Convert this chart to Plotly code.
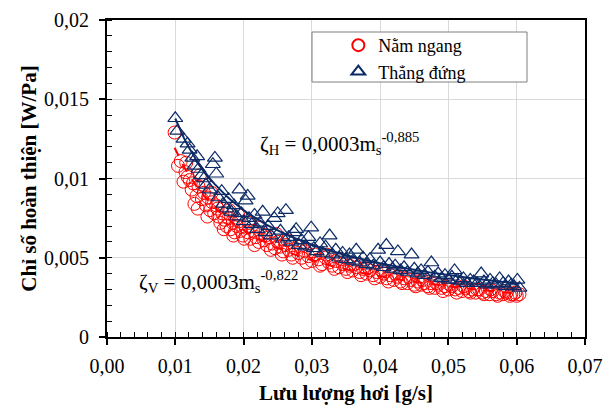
import numpy as np
import plotly.graph_objects as go

# Nằm ngang (horizontal) measurements: steam flow [g/s] vs performance index [W/Pa]
h_flow = [0.0099, 0.0104, 0.0108, 0.0112, 0.0116, 0.0118, 0.0121, 0.0124, 0.0128, 0.0131,
          0.0134, 0.0136, 0.0139, 0.0142, 0.0145, 0.0148, 0.0151, 0.0154, 0.0157, 0.0160,
          0.0163, 0.0166, 0.0169, 0.0172, 0.0175, 0.0178, 0.0181, 0.0184, 0.0187, 0.0190,
          0.0193, 0.0196, 0.0199, 0.0203, 0.0206, 0.0210, 0.0214, 0.0218, 0.0222, 0.0226,
          0.0230, 0.0234, 0.0238, 0.0242, 0.0246, 0.0250, 0.0254, 0.0258, 0.0262, 0.0266,
          0.0270, 0.0275, 0.0280, 0.0285, 0.0290, 0.0295, 0.0300, 0.0305, 0.0310, 0.0315,
          0.0320, 0.0325, 0.0330, 0.0335, 0.0340, 0.0345, 0.0350, 0.0355, 0.0360, 0.0365,
          0.0370, 0.0375, 0.0380, 0.0385, 0.0390, 0.0395, 0.0400, 0.0405, 0.0410, 0.0415,
          0.0420, 0.0425, 0.0430, 0.0435, 0.0440, 0.0445, 0.0450, 0.0455, 0.0460, 0.0465,
          0.0470, 0.0475, 0.0480, 0.0485, 0.0490, 0.0495, 0.0500, 0.0505, 0.0510, 0.0515,
          0.0520, 0.0525, 0.0530, 0.0535, 0.0540, 0.0545, 0.0550, 0.0555, 0.0560, 0.0565,
          0.0570, 0.0575, 0.0580, 0.0585, 0.0590, 0.0595, 0.0600, 0.0604,
          0.0115, 0.0126, 0.0133, 0.0141, 0.0147, 0.0153, 0.0162, 0.0171, 0.0179, 0.0185,
          0.0192, 0.0201, 0.0208, 0.0216, 0.0224, 0.0232, 0.0240, 0.0248, 0.0256, 0.0264,
          0.0272, 0.0283, 0.0292, 0.0302, 0.0312, 0.0322, 0.0333, 0.0343, 0.0352, 0.0362,
          0.0372, 0.0383, 0.0392, 0.0402, 0.0412, 0.0422, 0.0432, 0.0442, 0.0452, 0.0462,
          0.0472, 0.0482, 0.0492, 0.0502, 0.0512, 0.0522, 0.0532, 0.0542, 0.0552, 0.0562,
          0.0572, 0.0582, 0.0592, 0.0598]
h_index = [0.0129, 0.0108, 0.0111, 0.0098, 0.0110, 0.0101, 0.0099, 0.0093, 0.0084, 0.0089,
           0.0095, 0.0102, 0.0087, 0.0091, 0.0083, 0.0088, 0.0080, 0.0085, 0.0078, 0.0083,
           0.0076, 0.0072, 0.0078, 0.0074, 0.0070, 0.0075, 0.0068, 0.0072, 0.0066, 0.0070,
           0.0073, 0.0067, 0.0064, 0.0069, 0.0066, 0.0062, 0.0067, 0.0063, 0.0060, 0.0065,
           0.0061, 0.0058, 0.0063, 0.0059, 0.0056, 0.0060, 0.0057, 0.0054, 0.0058, 0.0055,
           0.0052, 0.0056, 0.0053, 0.0050, 0.0054, 0.0051, 0.0048, 0.0052, 0.0049, 0.0046,
           0.0050, 0.0047, 0.0045, 0.0048, 0.0044, 0.0046, 0.0043, 0.0045, 0.0042, 0.0044,
           0.0041, 0.0043, 0.0040, 0.0042, 0.0039, 0.0041, 0.0038, 0.0040, 0.0037, 0.0039,
           0.0036, 0.0038, 0.0035, 0.0037, 0.0034, 0.0036, 0.0033, 0.0035, 0.0033, 0.0034,
           0.0032, 0.0034, 0.0031, 0.0033, 0.0031, 0.0032, 0.0030, 0.0032, 0.0030, 0.0031,
           0.0029, 0.0031, 0.0029, 0.0030, 0.0028, 0.0030, 0.0028, 0.0029, 0.0027, 0.0029,
           0.0027, 0.0028, 0.0027, 0.0028, 0.0026, 0.0027, 0.0026, 0.0027,
           0.0104, 0.0097, 0.0081, 0.0096, 0.0076, 0.0091, 0.0081, 0.0068, 0.0080, 0.0064,
           0.0077, 0.0062, 0.0072, 0.0058, 0.0069, 0.0064, 0.0055, 0.0065, 0.0052, 0.0061,
           0.0050, 0.0057, 0.0047, 0.0054, 0.0045, 0.0052, 0.0043, 0.0049, 0.0041, 0.0046,
           0.0039, 0.0044, 0.0037, 0.0042, 0.0035, 0.0040, 0.0034, 0.0038, 0.0032, 0.0036,
           0.0031, 0.0034, 0.0029, 0.0033, 0.0028, 0.0032, 0.0028, 0.0030, 0.0027, 0.0030,
           0.0026, 0.0029, 0.0027, 0.0028]

# Thẳng đứng (vertical) measurements
v_flow = [0.0100, 0.0103, 0.0112, 0.0118, 0.0121, 0.0125, 0.0128, 0.0132, 0.0134, 0.0138,
          0.0142, 0.0145, 0.0150, 0.0155, 0.0158, 0.0160, 0.0163, 0.0168, 0.0170, 0.0175,
          0.0178, 0.0182, 0.0186, 0.0190, 0.0194, 0.0197, 0.0200, 0.0203, 0.0206, 0.0208,
          0.0212, 0.0216, 0.0220, 0.0224, 0.0228, 0.0232, 0.0236, 0.0240, 0.0245, 0.0250,
          0.0254, 0.0258, 0.0262, 0.0266, 0.0270, 0.0274, 0.0277, 0.0281, 0.0285, 0.0290,
          0.0295, 0.0299, 0.0303, 0.0307, 0.0312, 0.0316, 0.0320, 0.0326, 0.0330, 0.0335,
          0.0340, 0.0345, 0.0350, 0.0355, 0.0360, 0.0365, 0.0370, 0.0375, 0.0380, 0.0385,
          0.0390, 0.0397, 0.0400, 0.0405, 0.0409, 0.0413, 0.0418, 0.0422, 0.0426, 0.0430,
          0.0435, 0.0440, 0.0446, 0.0450, 0.0455, 0.0460, 0.0465, 0.0470, 0.0475, 0.0480,
          0.0485, 0.0490, 0.0495, 0.0500, 0.0505, 0.0509, 0.0513, 0.0518, 0.0522, 0.0527,
          0.0532, 0.0537, 0.0542, 0.0548, 0.0552, 0.0556, 0.0561, 0.0565, 0.0570, 0.0575,
          0.0580, 0.0584, 0.0588, 0.0592, 0.0596, 0.0601, 0.0604]
v_index = [0.0138, 0.0130, 0.0125, 0.0122, 0.0118, 0.0113, 0.0108, 0.0114, 0.0106, 0.0102,
           0.0100, 0.0096, 0.0093, 0.0109, 0.0113, 0.0103, 0.0088, 0.0092, 0.0084, 0.0081,
           0.0087, 0.0079, 0.0083, 0.0076, 0.0093, 0.0078, 0.0073, 0.0086, 0.0089, 0.0075,
           0.0071, 0.0077, 0.0068, 0.0072, 0.0079, 0.0066, 0.0070, 0.0064, 0.0075, 0.0078,
           0.0067, 0.0062, 0.0080, 0.0063, 0.0060, 0.0066, 0.0068, 0.0058, 0.0061, 0.0057,
           0.0063, 0.0069, 0.0056, 0.0054, 0.0059, 0.0053, 0.0057, 0.0064, 0.0052, 0.0055,
           0.0050, 0.0053, 0.0049, 0.0052, 0.0048, 0.0055, 0.0047, 0.0050, 0.0046, 0.0049,
           0.0045, 0.0055, 0.0047, 0.0044, 0.0058, 0.0046, 0.0043, 0.0045, 0.0054, 0.0042,
           0.0044, 0.0041, 0.0052, 0.0043, 0.0040, 0.0042, 0.0039, 0.0041, 0.0047, 0.0038,
           0.0040, 0.0037, 0.0039, 0.0036, 0.0038, 0.0042, 0.0036, 0.0035, 0.0037, 0.0034,
           0.0036, 0.0035, 0.0034, 0.0040, 0.0035, 0.0033, 0.0036, 0.0034, 0.0033, 0.0037,
           0.0034, 0.0032, 0.0035, 0.0033, 0.0032, 0.0036, 0.0031]

series_names = ["Nằm ngang", "Thẳng đứng"]
fit_labels = ["ζ<sub>H</sub> = 0,0003m<sub>s</sub><sup>-0,885</sup>",
              "ζ<sub>V</sub> = 0,0003m<sub>s</sub><sup>-0,822</sup>"]

RED = "#FF0000"
NAVY = "#0B2A66"
SERIF = "Liberation Serif"


def power_trend(x, y, n=80):
    """Least-squares power trendline y = a*x^b fitted in log-log space."""
    lx, ly = np.log(np.asarray(x)), np.log(np.asarray(y))
    b, ln_a = np.polyfit(lx, ly, 1)
    xs = np.linspace(min(x), max(x), n)
    return xs, np.exp(ln_a) * xs ** b


fig = go.Figure()

fig.add_trace(go.Scatter(
    x=h_flow, y=h_index, mode="markers", name=series_names[0],
    marker=dict(symbol="circle-open", size=13, color=RED, line=dict(width=1)),
))
fig.add_trace(go.Scatter(
    x=v_flow, y=v_index, mode="markers", name=series_names[1],
    marker=dict(symbol="triangle-up-open", size=13, color=NAVY, line=dict(width=1.2)),
))

hx, hy = power_trend(h_flow, h_index)
vx, vy = power_trend(v_flow, v_index)
fig.add_trace(go.Scatter(x=hx, y=hy, mode="lines", showlegend=False,
                         line=dict(color=RED, width=2, dash="dash")))
fig.add_trace(go.Scatter(x=vx, y=vy, mode="lines", showlegend=False,
                         line=dict(color=NAVY, width=2)))

axis_common = dict(
    showline=True, linecolor="black", linewidth=2, mirror=True, automargin=False,
    showgrid=True, gridcolor="#D9D9D9", gridwidth=1, zeroline=False,
    ticks="outside", ticklen=6, tickwidth=1.5, tickcolor="black",
    tickfont=dict(family=SERIF, size=20, color="black"),
)

fig.update_xaxes(
    range=[0, 0.07], dtick=0.01, tick0=0, tickformat=".2f", ticklabelstandoff=4,
    minor=dict(dtick=0.002, ticks="inside", ticklen=5, tickcolor="black", tickwidth=1.2,
               showgrid=False),
    title=dict(text="<b>Lưu lượng hơi [g/s]</b>",
               font=dict(family=SERIF, size=21, color="black"), standoff=10),
    **axis_common,
)
fig.update_yaxes(
    range=[0, 0.02], dtick=0.005, tick0=0, ticklabelstandoff=6,
    minor=dict(dtick=0.001, ticks="inside", ticklen=5, tickcolor="black", tickwidth=1.2,
               showgrid=False),
    title=dict(text="<b>Chỉ số hoàn thiện [W/Pa]</b>",
               font=dict(family=SERIF, size=21, color="black"), standoff=2),
    **axis_common,
)

fig.add_annotation(x=0.0341, y=0.0122, xref="x", yref="y", text=fit_labels[0],
                   showarrow=False, font=dict(family=SERIF, size=21, color="black"))
fig.add_annotation(x=0.0163, y=0.0035, xref="x", yref="y", text=fit_labels[1],
                   showarrow=False, font=dict(family=SERIF, size=21, color="black"))

# legend frame
fig.add_shape(type="rect", xref="paper", yref="paper",
              x0=(312 - 107) / 478, x1=(527 - 107) / 478,
              y0=(337 - 82) / 317, y1=(337 - 32) / 317,
              line=dict(color="#7F7F7F", width=1), fillcolor="white", layer="above")

fig.update_layout(
    width=604, height=405,
    margin=dict(l=107, r=19, t=20, b=68),
    paper_bgcolor="white", plot_bgcolor="white",
    separators=",.",
    font=dict(family=SERIF, color="black"),
    legend=dict(x=0.484, y=0.978, xanchor="left", yanchor="top",
                bgcolor="rgba(0,0,0,0)", borderwidth=0,
                font=dict(family=SERIF, size=18, color="black"),
                itemsizing="constant", tracegroupgap=0),
    showlegend=True,
)

fig.write_html("out.html")
